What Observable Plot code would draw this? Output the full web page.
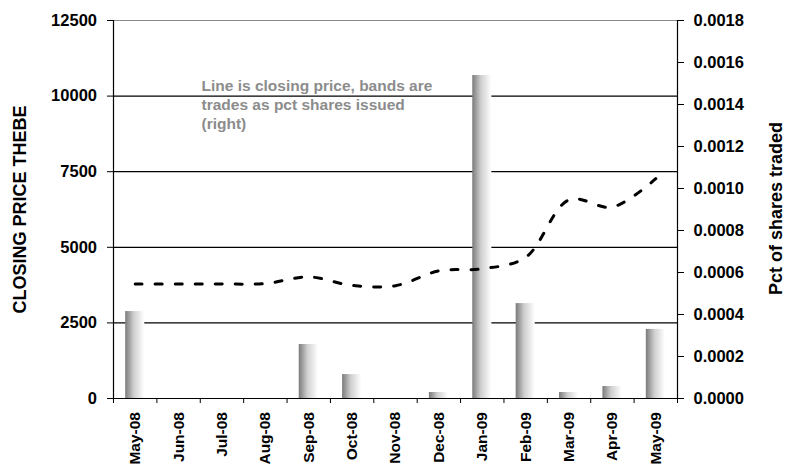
<!DOCTYPE html>
<html>
<head>
<meta charset="utf-8">
<script src="https://cdn.jsdelivr.net/npm/d3@7"></script>
<script src="https://cdn.jsdelivr.net/npm/@observablehq/plot@0.6"></script>
<style>
  html, body { margin: 0; padding: 0; background: #fff; }
  #chart { width: 788px; height: 464px; overflow: hidden; }
</style>
</head>
<body>
<div id="chart"></div>
<script>
const months = ["May-08","Jun-08","Jul-08","Aug-08","Sep-08","Oct-08","Nov-08","Dec-08","Jan-09","Feb-09","Mar-09","Apr-09","May-09"];
const closingPrice = [3790, 3790, 3790, 3800, 4020, 3740, 3730, 4220, 4290, 4670, 6570, 6330, 7270];
const pctTraded = [0.000414, 0, 0, 0, 0.000257, 0.000114, 0, 0.0000286, 0.001538, 0.000452, 0.0000286, 0.0000571, 0.000329];
const leftTicks = [0, 2500, 5000, 7500, 10000, 12500];
const rightTicks = [0, 0.0002, 0.0004, 0.0006, 0.0008, 0.0010, 0.0012, 0.0014, 0.0016, 0.0018];
const gridValues = [2500, 5000, 7500, 10000];
const leftMax = 12500, rightMax = 0.0018;
const note = "Line is closing price, bands are\ntrades as pct shares issued\n(right)";

const k = leftMax / rightMax;
const table = months.map((m, i) => ({month: m, i, price: closingPrice[i], pct: pctTraded[i]}));

const defs = () => {
  const d = d3.create("svg:defs");
  const lg = d.append("linearGradient").attr("id", "barGrad")
    .attr("x1", 0).attr("x2", 1).attr("y1", 0).attr("y2", 0);
  lg.append("stop").attr("offset", "0%").attr("stop-color", "#7a7a7a");
  lg.append("stop").attr("offset", "45%").attr("stop-color", "#cfcfcf");
  lg.append("stop").attr("offset", "100%").attr("stop-color", "#ffffff");
  return d.node();
};

const font = "'Liberation Sans', Arial, sans-serif";

const chart = Plot.plot({
  width: 788,
  height: 464,
  marginLeft: 113,
  marginRight: 111,
  marginTop: 20,
  marginBottom: 66,
  style: {fontFamily: font, fontWeight: "bold", fontSize: "16px", color: "#000", background: "#fff", overflow: "visible"},
  x: {type: "linear", domain: [0, months.length]},
  y: {domain: [0, leftMax]},
  marks: [
    defs,
    Plot.ruleY(gridValues, {stroke: "#000", strokeWidth: 1.2}),
    Plot.ruleY([leftMax], {stroke: "#8a8a8a", strokeWidth: 1.2}),
    Plot.rectY(table, {x1: d => d.i, x2: d => d.i + 1, y: d => d.pct * k, fill: "url(#barGrad)", insetLeft: 12.2, insetRight: 12.1}),
    Plot.line(table, {x: d => d.i + 0.5, y: "price", curve: "catmull-rom", stroke: "#000", strokeWidth: 3, strokeDasharray: "7,13"}),
    Plot.ruleX([0, months.length], {stroke: "#000", strokeWidth: 1.2}),
    Plot.ruleY([0], {stroke: "#000", strokeWidth: 1.2}),
    Plot.axisY({anchor: "left", ticks: leftTicks, tickFormat: d => String(d), tickSize: 6, tickPadding: 10.5, label: null, fontSize: 16.5, fontWeight: "bold"}),
    Plot.axisY({anchor: "right", ticks: rightTicks.map(v => v * k), tickFormat: v => (v / k).toFixed(4), tickSize: 6, tickPadding: 10, label: null, fontSize: 16.5, fontWeight: "bold"}),
    Plot.axisX({ticks: d3.range(months.length + 1), tickFormat: () => "", tickSize: 5, label: null}),
    Plot.axisX({ticks: months.map((m, i) => i + 0.5), tickFormat: v => months[Math.floor(v)], tickSize: 0, tickPadding: 13.5, tickRotate: -90, label: null, fontSize: 15.5, fontWeight: "bold"}),
    Plot.text(["CLOSING PRICE THEBE"], {frameAnchor: "left", dx: -93, rotate: -90, textAnchor: "middle", lineAnchor: "middle", fontSize: 18, fontWeight: "bold", fill: "#000"}),
    Plot.text(["Pct of shares traded"], {frameAnchor: "right", dx: 99, dy: -1, rotate: -90, textAnchor: "middle", lineAnchor: "middle", fontSize: 18, fontWeight: "bold", fill: "#000"}),
    Plot.text([note], {frameAnchor: "top-left", dx: 88, dy: 56.5, textAnchor: "start", lineAnchor: "top", lineHeight: 1.23, fontSize: 15.5, fontWeight: "bold", fill: "#8c8c8c"})
  ]
});
document.getElementById("chart").appendChild(chart);
</script>
</body>
</html>
